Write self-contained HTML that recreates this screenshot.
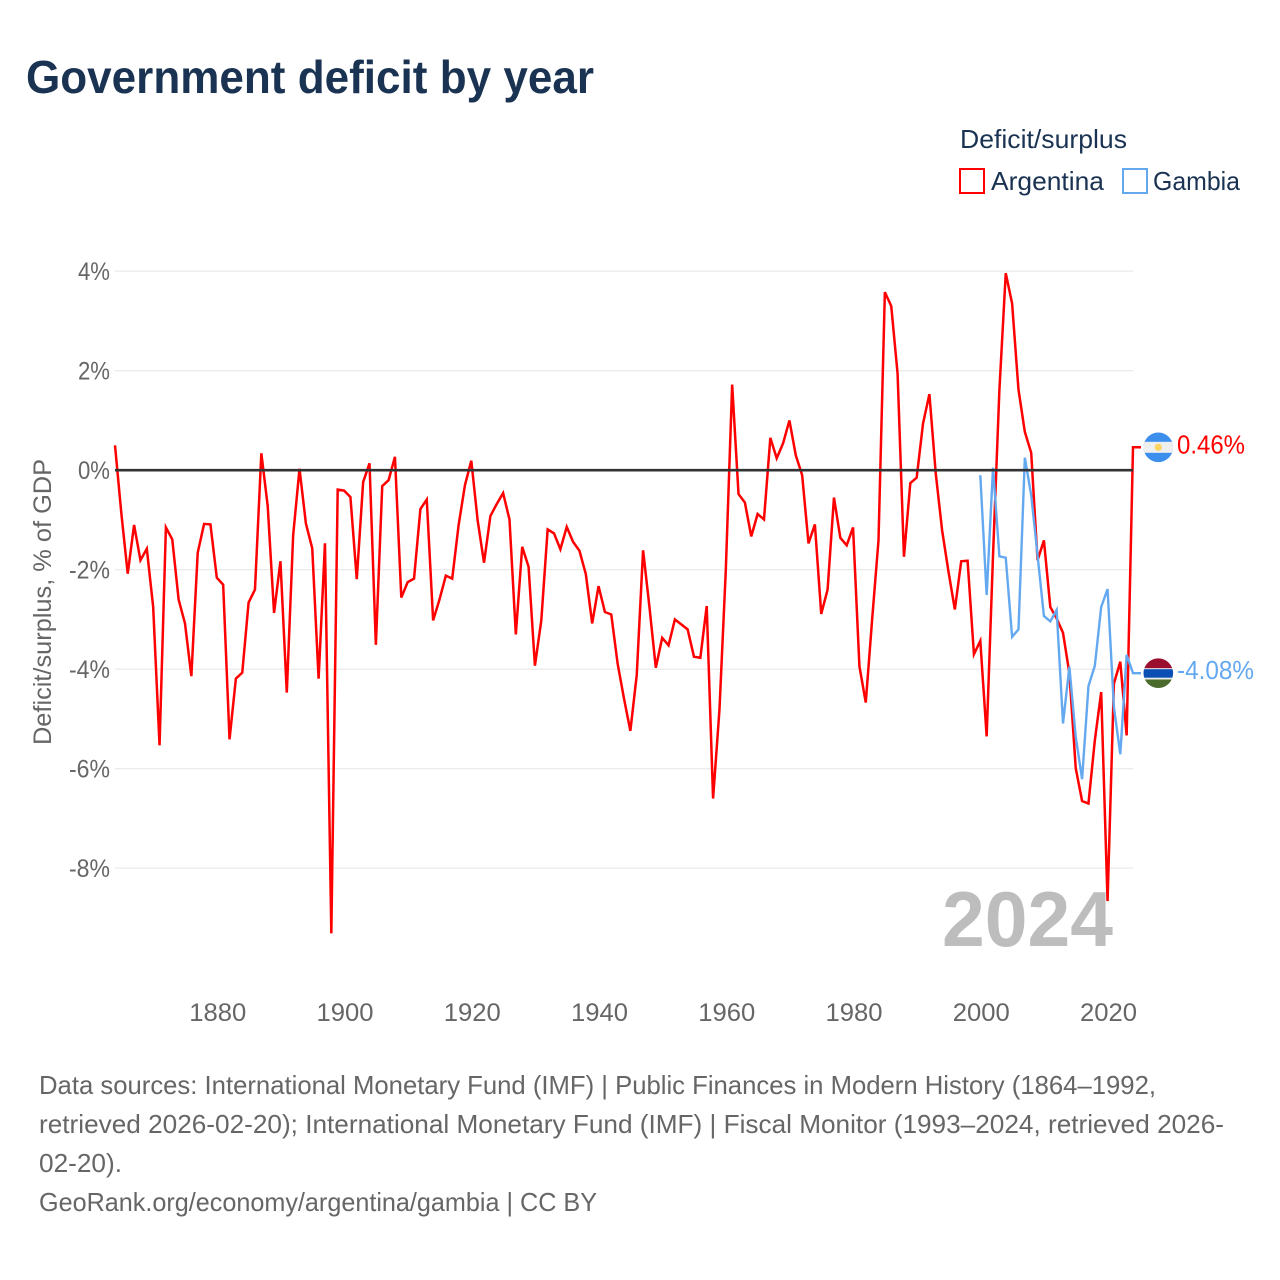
<!DOCTYPE html>
<html lang="en">
<head>
<meta charset="utf-8">
<title>Government deficit by year</title>
<style>
html,body{margin:0;padding:0;background:#fff}
svg{display:block}
text{font-family:"Liberation Sans",sans-serif}
</style>
</head>
<body>
<svg id="chart" xmlns="http://www.w3.org/2000/svg" width="1280" height="1280" viewBox="0 0 1280 1280">
  <rect x="0" y="0" width="1280" height="1280" fill="#fff"/>
  <text x="26" y="93" font-size="46" font-weight="700" fill="#1a3352" textLength="568" lengthAdjust="spacingAndGlyphs">Government deficit by year</text>

  <g>
    <text x="960" y="148" font-size="26" fill="#1a3352" textLength="167" lengthAdjust="spacingAndGlyphs">Deficit/surplus</text>
    <g>
      <rect x="960" y="169" width="24" height="24" fill="#fff" stroke="#ff0000" stroke-width="2"/>
      <text x="991" y="190" font-size="26" fill="#1a3352" textLength="113" lengthAdjust="spacingAndGlyphs">Argentina</text>
    </g>
    <g>
      <rect x="1123" y="169" width="24" height="24" fill="#fff" stroke="#64a9f0" stroke-width="2"/>
      <text x="1153" y="190" font-size="26" fill="#1a3352" textLength="87" lengthAdjust="spacingAndGlyphs">Gambia</text>
    </g>
  </g>

  <text transform="translate(51 745) rotate(-90)" x="0" y="0" font-size="25" fill="#666" textLength="286" lengthAdjust="spacingAndGlyphs">Deficit/surplus, % of GDP</text>

  <g id="grid"></g>
  <g id="yticks"></g>
  <g id="xticks"></g>

  <text x="942" y="946" font-size="78" font-weight="700" fill="#bdbdbd" textLength="171" lengthAdjust="spacingAndGlyphs">2024</text>

  <g id="series"></g>
  <g id="zero"></g>
  <g id="ends"></g>

  <g font-size="26" fill="#666">
    <text x="39" y="1094" textLength="1117" lengthAdjust="spacingAndGlyphs">Data sources: International Monetary Fund (IMF) | Public Finances in Modern History (1864–1992,</text>
    <text x="39" y="1133" textLength="1185" lengthAdjust="spacingAndGlyphs">retrieved 2026-02-20); International Monetary Fund (IMF) | Fiscal Monitor (1993–2024, retrieved 2026-</text>
    <text x="39" y="1172" textLength="83" lengthAdjust="spacingAndGlyphs">02-20).</text>
    <text x="39" y="1211" textLength="558" lengthAdjust="spacingAndGlyphs">GeoRank.org/economy/argentina/gambia | CC BY</text>
  </g>
</svg>
<script>
const argentinaStartYear = 1864;
const gambiaStartYear = 2000;
const argentinaValues = [
0.50,-0.87,-2.08,-1.10,-1.81,-1.58,-2.75,-5.53,-1.15,-1.39,-2.60,-3.08,-4.14,-1.66,-1.08,-1.09,
-2.16,-2.30,-5.41,-4.19,-4.07,-2.66,-2.40,0.34,-0.72,-2.87,-1.83,-4.47,-1.31,0.03,-1.07,-1.57,-4.19,-1.47,-9.31,-0.39,
-0.41,-0.54,-2.19,-0.24,0.14,-3.51,-0.32,-0.20,0.27,-2.56,-2.25,-2.18,-0.78,-0.59,-3.02,-2.60,-2.12,-2.18,-1.11,-0.30,
0.19,-1.01,-1.86,-0.92,-0.68,-0.46,-0.99,-3.30,-1.54,-1.94,-3.93,-3.02,-1.19,-1.27,-1.59,-1.14,-1.44,-1.62,-2.09,-3.08,
-2.33,-2.85,-2.90,-3.89,-4.59,-5.24,-4.12,-1.61,-2.75,-3.97,-3.37,-3.52,-3.00,-3.10,-3.20,-3.75,-3.77,-2.73,-6.60,-4.82,
-2.01,1.72,-0.48,-0.65,-1.33,-0.88,-0.99,0.65,0.24,0.54,1.00,0.30,-0.10,-1.47,-1.09,-2.89,-2.40,-0.55,-1.36,-1.51,
-1.15,-3.94,-4.67,-3.00,-1.41,3.58,3.30,1.94,-1.74,-0.26,-0.15,0.94,1.53,-0.07,-1.21,-2.04,-2.80,-1.83,-1.82,-3.70,
-3.43,-5.35,-1.71,1.61,3.96,3.35,1.62,0.77,0.35,-1.81,-1.41,-2.75,-2.98,-3.27,-4.08,-5.99,-6.65,-6.70,-5.43,-4.46,
-8.66,-4.29,-3.85,-5.33,0.46
];
const gambiaValues = [
-0.10,-2.51,0.05,-1.73,-1.76,-3.35,-3.20,0.25,-0.50,-1.71,-2.93,-3.04,-2.81,-5.09,-3.95,-5.36,-6.21,-4.34,-3.93,-2.75,
-2.39,-4.76,-5.71,-3.71,-4.08
];
const yTickValues = [4,2,0,-2,-4,-6,-8];
const xTickYears = [1880,1900,1920,1940,1960,1980,2000,2020];

const NS = 'http://www.w3.org/2000/svg';
const plotLeft = 115, plotRight = 1133;
const yearMin = 1864, yearMax = 2024;
const zeroY = 470.2, pxPerPercent = 49.75;
function xScale(year){ return plotLeft + (year - yearMin) * (plotRight - plotLeft) / (yearMax - yearMin); }
function yScale(v){ return zeroY - v * pxPerPercent; }
function make(tag, parent){ const el = document.createElementNS(NS, tag); document.getElementById(parent).appendChild(el); return el; }
function fmt(n){ return n.toFixed(2); }

yTickValues.forEach(function(v){
  if (v !== 0) {
    const gl = make('line', 'grid');
    
    
    gl.setAttribute('x1', plotLeft); gl.setAttribute('x2', plotRight);
    gl.setAttribute('y1', yScale(v)); gl.setAttribute('y2', yScale(v));
    gl.setAttribute('stroke', '#ebebeb'); gl.setAttribute('stroke-width', '1.3');
  }
  const t = make('text', 'yticks');
  
  
  const label = v + '%';
  t.textContent = label;
  t.setAttribute('x', 110); t.setAttribute('y', yScale(v) + 9);
  t.setAttribute('text-anchor', 'end');
  t.setAttribute('font-size', '25'); t.setAttribute('fill', '#666');
  t.setAttribute('textLength', label.length === 2 ? 32 : 41);
  t.setAttribute('lengthAdjust', 'spacingAndGlyphs');
});

xTickYears.forEach(function(y){
  const t = make('text', 'xticks');
  
  
  t.textContent = String(y);
  t.setAttribute('x', xScale(y) + 1); t.setAttribute('y', 1021);
  t.setAttribute('text-anchor', 'middle');
  t.setAttribute('font-size', '25'); t.setAttribute('fill', '#666');
  t.setAttribute('textLength', 57);
  t.setAttribute('lengthAdjust', 'spacingAndGlyphs');
});

function seriesPoints(values, startYear){
  const pts = values.map(function(v, i){ return fmt(xScale(startYear + i)) + ',' + fmt(yScale(v)); });
  const last = values[values.length - 1];
  pts.push(fmt(xScale(startYear + values.length - 1) + 8) + ',' + fmt(yScale(last)));
  return pts.join(' ');
}

const argLine = make('polyline', 'series');


argLine.setAttribute('points', seriesPoints(argentinaValues, argentinaStartYear));
argLine.setAttribute('fill', 'none'); argLine.setAttribute('stroke', '#ff0000');
argLine.setAttribute('stroke-width', '2.5'); argLine.setAttribute('stroke-linejoin', 'miter');

const gamLine = make('polyline', 'series');


gamLine.setAttribute('points', seriesPoints(gambiaValues, gambiaStartYear));
gamLine.setAttribute('fill', 'none'); gamLine.setAttribute('stroke', '#64a9f0');
gamLine.setAttribute('stroke-width', '2.4'); gamLine.setAttribute('stroke-linejoin', 'miter');

const zeroLine = make('line', 'zero');


zeroLine.setAttribute('x1', plotLeft); zeroLine.setAttribute('x2', plotRight);
zeroLine.setAttribute('y1', yScale(0)); zeroLine.setAttribute('y2', yScale(0));
zeroLine.setAttribute('stroke', '#333'); zeroLine.setAttribute('stroke-width', '2.6');

const flagX = 1158.3, flagR = 14.8;
const defs = make('defs', 'ends');
function band(parent, x, y, w, h, fill){
  const r = document.createElementNS(NS, 'rect');
  r.setAttribute('x', x); r.setAttribute('y', y); r.setAttribute('width', w); r.setAttribute('height', h);
  r.setAttribute('fill', fill);
  parent.appendChild(r);
  return r;
}
function flagGroup(id, cy){
  const clip = document.createElementNS(NS, 'clipPath');
  clip.setAttribute('id', id + '-clip');
  const c = document.createElementNS(NS, 'circle');
  c.setAttribute('cx', flagX); c.setAttribute('cy', cy); c.setAttribute('r', flagR);
  clip.appendChild(c);
  defs.appendChild(clip);
  const g = make('g', 'ends');
  g.setAttribute('clip-path', 'url(#' + id + '-clip)');
  return g;
}

const argY = yScale(argentinaValues[argentinaValues.length - 1]);
const argFlag = flagGroup('arg', argY);


band(argFlag, flagX - 16, argY - 16, 32, 32, '#3d8fee');
band(argFlag, flagX - 16, argY - 5.5, 32, 11, '#efefef');
const sun = document.createElementNS(NS, 'circle');
sun.setAttribute('cx', flagX); sun.setAttribute('cy', argY); sun.setAttribute('r', 3.6);
sun.setAttribute('fill', '#fcd462');
argFlag.appendChild(sun);

const gamY = yScale(gambiaValues[gambiaValues.length - 1]);
const gamFlag = flagGroup('gam', gamY);


band(gamFlag, flagX - 16, gamY - 16, 32, 32, '#eee');
band(gamFlag, flagX - 16, gamY - 16, 32, 11, '#9b0f2e');
band(gamFlag, flagX - 16, gamY - 4, 32, 8.5, '#0a50b4');
band(gamFlag, flagX - 16, gamY + 6.3, 32, 11, '#4a6b2c');

const argLabel = make('text', 'ends');


argLabel.textContent = argentinaValues[argentinaValues.length - 1].toFixed(2) + '%';
argLabel.setAttribute('x', 1177); argLabel.setAttribute('y', argY + 6);
argLabel.setAttribute('font-size', '26'); argLabel.setAttribute('fill', '#ff0000');
argLabel.setAttribute('textLength', 68); argLabel.setAttribute('lengthAdjust', 'spacingAndGlyphs');

const gamLabel = make('text', 'ends');


gamLabel.textContent = gambiaValues[gambiaValues.length - 1].toFixed(2) + '%';
gamLabel.setAttribute('x', 1177); gamLabel.setAttribute('y', gamY + 6);
gamLabel.setAttribute('font-size', '26'); gamLabel.setAttribute('fill', '#64a9f0');
gamLabel.setAttribute('textLength', 77); gamLabel.setAttribute('lengthAdjust', 'spacingAndGlyphs');
</script>
</body>
</html>
